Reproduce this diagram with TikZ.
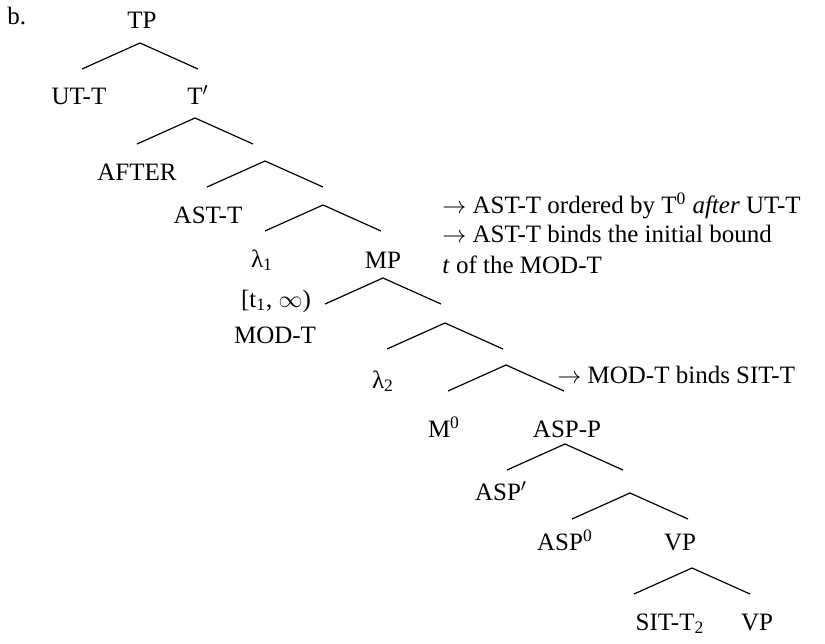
\documentclass[tikz,border=0pt]{standalone}
\usepackage{fontspec}
\setmainfont{Liberation Serif}
\usetikzlibrary{positioning}

% a binary split: apex plus its two lower ends
\newcommand{\splitat}[3]{%
    \path (#2,#3) coordinate (#1) +(-58,26) coordinate (#1-l) +(58,26) coordinate (#1-r);
    \draw[edge] (#1-l) -- (#1) -- (#1-r);
}

\begin{document}
\begin{tikzpicture}[
    x=0.5pt, y=-0.5pt,
    every node/.style={font=\fontsize{12.5}{15}\selectfont, inner sep=0pt},
    lbl/.style={anchor=base},
    note/.style={anchor=base west},
    edge/.style={line width=0.6pt}
]
    \useasboundingbox (0,0) rectangle (825,643);

    \node (ex) [note] at (7,24) {b.};

    % branch points
    \splitat{tp}{140}{43}
    \splitat{tbar}{195}{118}
    \splitat{tlow}{265}{161}
    \splitat{ast}{323}{205}
    \splitat{mp}{383}{278}
    \splitat{mlow}{445}{323}
    \splitat{mlam}{506}{365}
    \splitat{aspp}{565}{444}
    \splitat{asplow}{630}{493}
    \splitat{vp}{692}{568}

    % labels
    \node (tplbl) [lbl] at (142,28) {TP};
    \node (utt) [lbl] at (79,104) {UT-T};
    \node (tbarlbl) [lbl] at (198,104) {T$'$};
    \node (after) [lbl] at (137,180) {AFTER};
    \node (astt) [lbl] at (208,223) {AST-T};
    \node (lam1) [lbl] at (262,267) {λ\textsubscript{1}};
    \node (mplbl) [lbl] at (383,268) {MP};
    \node (intv) [lbl] at (276,307) {[t\textsubscript{1}, $\infty$)};
    \node (modt) [lbl] at (275,343) {MOD-T};
    \node (lam2) [lbl] at (383,388) {λ\textsubscript{2}};
    \node (mzero) [lbl] at (444,437) {M\textsuperscript{0}};
    \node (aspplbl) [lbl] at (567,437) {ASP-P};
    \node (aspbar) [lbl] at (501,500) {ASP$'$};
    \node (aspzero) [lbl] at (565,550) {ASP\textsuperscript{0}};
    \node (vpup) [lbl] at (680,550) {VP};
    \node (sitt) [lbl] at (670,630) {SIT-T\textsubscript{2}};
    \node (vpdown) [lbl] at (757,630) {VP};

    % side notes
    \node (noteorder) [note] at (442,213) {$\rightarrow$ AST-T ordered by T\textsuperscript{0} \textit{after} UT-T};
    \node (notebind) [note] at (442,242) {$\rightarrow$ AST-T binds the initial bound};
    \node (notebound) [note] at (442,273) {\textit{t} of the MOD-T};
    \node (notesit) [note] at (557,383) {$\rightarrow$ MOD-T binds SIT-T};
\end{tikzpicture}
\end{document}
